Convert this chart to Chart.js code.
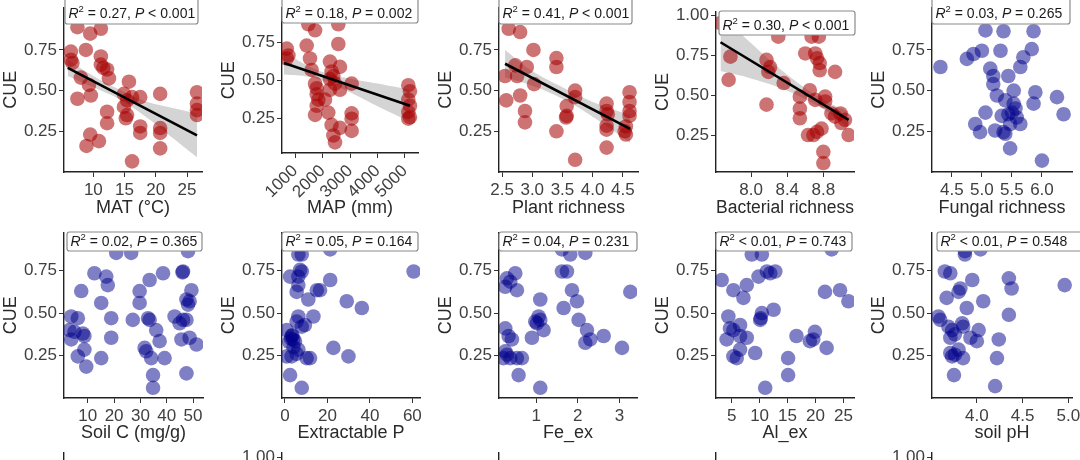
<!DOCTYPE html>
<html><head><meta charset="utf-8">
<script src="https://cdn.jsdelivr.net/npm/chart.js@4.4.1/dist/chart.umd.min.js"></script>
<style>
html,body{margin:0;padding:0;background:#fff;overflow:hidden;width:1080px;height:460px;}
#wrap{position:relative;width:1080px;height:460px;overflow:hidden;background:#fff;}
canvas{position:absolute;}
</style></head><body><div id="wrap"></div>
<script>
// ---------------- DATA ----------------
const matX = [7.45,9.5,11.2,6.4,6.4,6.65,8.8,8.0,9.3,9.6,7.45,11.2,11.2,11.6,12.2,12.5,12.2,12.2,9.5,8.9,10.9,15.7,14.9,15.4,16.2,14.9,15.4,15.2,17.5,17.5,17.5,16.2,20.7,20.7,20.7,20.7,26.6,26.6,26.6,26.6];
const matY = [0.89,0.85,0.88,0.74,0.69,0.67,0.75,0.58,0.535,0.47,0.45,0.71,0.66,0.64,0.63,0.575,0.37,0.30,0.23,0.16,0.19,0.555,0.48,0.44,0.46,0.40,0.35,0.33,0.46,0.28,0.24,0.065,0.48,0.27,0.24,0.145,0.49,0.42,0.38,0.35];
const mapX = [700,760,700,1485,1730,1425,1545,1605,1730,1790,1790,1850,1790,1730,2210,2090,2270,2330,2395,2270,2455,2270,2575,2575,2635,2635,2330,2395,2635,2455,3060,3060,3060,3060,5120,5180,5120,5180,5120,5180,5120];
const mapY = [0.71,0.665,0.645,0.87,0.83,0.73,0.645,0.57,0.48,0.45,0.41,0.375,0.335,0.275,0.29,0.375,0.625,0.56,0.53,0.51,0.48,0.44,0.87,0.74,0.59,0.44,0.21,0.14,0.19,0.095,0.48,0.285,0.25,0.17,0.47,0.43,0.375,0.335,0.295,0.26,0.25];
const plantX = [2.61,2.80,2.55,2.72,2.75,2.91,2.80,2.57,2.88,2.88,3.02,3.03,3.40,3.40,3.57,3.57,3.56,3.40,3.71,3.71,3.71,4.23,4.23,4.25,4.23,4.23,4.23,4.61,4.61,4.61,4.61,4.55,4.53,4.55];
const plantY = [0.88,0.86,0.59,0.655,0.59,0.645,0.47,0.44,0.375,0.305,0.75,0.54,0.70,0.645,0.405,0.345,0.335,0.25,0.50,0.46,0.075,0.42,0.375,0.355,0.285,0.26,0.15,0.49,0.43,0.375,0.345,0.28,0.25,0.23];
const bactX = [7.66,7.77,7.75,8.17,8.21,8.19,8.17,8.30,8.36,8.54,8.54,8.54,8.60,8.67,8.71,8.75,8.73,8.76,8.76,8.65,8.71,8.82,8.82,8.93,8.89,8.93,8.99,9.00,9.04,9.08,8.63,8.69,8.73,8.78,8.80,8.80];
const bactY = [0.95,0.74,0.595,0.72,0.675,0.645,0.44,0.865,0.575,0.49,0.415,0.355,0.76,0.865,0.76,0.865,0.73,0.70,0.655,0.53,0.47,0.49,0.46,0.645,0.385,0.365,0.385,0.325,0.345,0.25,0.25,0.25,0.27,0.29,0.145,0.075];
const fungX = [4.31,4.75,4.86,5.00,5.06,5.14,5.19,5.19,5.25,5.06,4.89,4.97,5.22,5.31,5.36,5.44,5.39,5.53,5.53,5.56,5.50,5.58,5.44,5.33,5.47,5.64,5.36,5.39,5.47,5.64,5.69,5.86,5.83,5.89,5.86,6.25,6.36,6.00];
const fungY = [0.645,0.695,0.725,0.745,0.87,0.635,0.59,0.54,0.47,0.365,0.295,0.245,0.255,0.745,0.865,0.59,0.44,0.50,0.42,0.39,0.365,0.335,0.355,0.345,0.295,0.295,0.245,0.235,0.145,0.645,0.705,0.865,0.755,0.49,0.42,0.46,0.355,0.07];
const soilCX = [3.7,6.2,3.0,4.9,8.1,8.7,3.7,8.7,6.2,9.4,7.5,12.5,17.0,17.6,15.1,18.9,18.9,15.1,20.8,26.5,27.1,29.7,29.7,33.5,38.6,32.9,33.5,36.0,37.3,31.6,32.2,34.1,39.2,34.8,34.8,43.0,44.9,46.2,47.5,48.1,46.2,46.0,48.1,49.4,48.7,47.5,45.6,48.7,51.3,47.5];
const soilCY = [0.48,0.47,0.40,0.39,0.38,0.365,0.345,0.285,0.245,0.185,0.63,0.735,0.715,0.665,0.56,0.47,0.355,0.235,0.855,0.855,0.46,0.63,0.56,0.695,0.735,0.47,0.46,0.40,0.335,0.295,0.275,0.235,0.235,0.135,0.06,0.48,0.44,0.46,0.58,0.55,0.745,0.74,0.865,0.635,0.57,0.46,0.345,0.355,0.315,0.145];
const extPX = [6.3,7.9,21.3,60.6,2.4,7.1,7.9,6.3,6.3,5.5,11.0,15.0,16.5,21.3,29.1,36.2,13.4,6.3,5.5,7.9,9.4,0.8,3.1,3.9,4.7,2.8,6.3,0.8,3.1,10.2,11.8,22.8,29.9,2.4,7.9,3.5,2.0,4.0,5.5];
const extPY = [0.845,0.845,0.875,0.745,0.715,0.755,0.745,0.715,0.665,0.625,0.58,0.635,0.635,0.695,0.57,0.53,0.48,0.48,0.45,0.42,0.43,0.40,0.365,0.345,0.335,0.35,0.285,0.245,0.245,0.235,0.235,0.295,0.245,0.135,0.06,0.37,0.33,0.30,0.26];
const feX = [0.30,0.38,0.50,0.54,0.26,0.26,0.34,0.42,0.26,0.30,0.22,0.38,0.54,0.66,0.58,0.90,0.98,1.10,1.06,1.10,1.02,1.18,1.10,1.62,1.82,2.18,1.62,1.74,1.86,1.98,1.66,2.02,2.22,2.18,2.30,2.62,3.06,3.26];
const feY = [0.705,0.685,0.735,0.635,0.655,0.41,0.365,0.345,0.275,0.255,0.235,0.235,0.235,0.235,0.135,0.355,0.45,0.58,0.48,0.46,0.44,0.40,0.06,0.875,0.845,0.855,0.745,0.745,0.635,0.57,0.53,0.46,0.40,0.325,0.345,0.365,0.295,0.625];
const alX = [3.2,5.3,7.1,7.7,8.6,10.4,9.8,11.3,11.9,12.8,4.4,4.7,5.3,4.1,6.5,6.5,7.7,10.4,10.1,10.2,12.5,5.3,5.9,6.5,9.2,11.0,15.1,15.1,16.6,19.0,19.6,19.9,22.0,21.7,24.4,25.9,22.9];
const alY = [0.695,0.635,0.59,0.665,0.845,0.845,0.715,0.745,0.735,0.745,0.48,0.41,0.40,0.345,0.43,0.365,0.355,0.50,0.46,0.47,0.52,0.245,0.235,0.285,0.265,0.06,0.235,0.135,0.365,0.335,0.345,0.39,0.295,0.625,0.635,0.57,0.875];
const phX = [3.58,3.60,3.65,3.71,3.67,3.80,3.82,3.87,3.87,4.04,3.95,3.89,4.07,3.69,3.73,3.76,3.71,3.84,3.85,3.93,4.00,4.02,3.71,3.76,3.73,3.80,3.85,3.75,4.24,4.22,4.20,4.35,4.38,4.35,4.96];
const phY = [0.48,0.46,0.745,0.735,0.59,0.625,0.645,0.865,0.845,0.875,0.695,0.53,0.57,0.42,0.40,0.375,0.355,0.44,0.42,0.355,0.335,0.40,0.265,0.255,0.245,0.285,0.235,0.135,0.345,0.235,0.07,0.705,0.645,0.49,0.665];

// regression lines and confidence bands
const matFitX = [5.9, 26.6], matFitY = [0.64, 0.225];
const matBandX = [5.9, 10, 14, 18, 22, 26.6];
const matBandUp = [0.69, 0.59, 0.51, 0.44, 0.40, 0.36];
const matBandLo = [0.59, 0.52, 0.45, 0.35, 0.23, 0.09];
const mapFitX = [600, 5180], mapFitY = [0.615, 0.335];
const mapBandX = [600, 1500, 2200, 3000, 4000, 5180];
const mapBandUp = [0.69, 0.595, 0.547, 0.513, 0.481, 0.44];
const mapBandLo = [0.54, 0.525, 0.487, 0.423, 0.331, 0.23];
const plantFitX = [2.55, 4.62], plantFitY = [0.665, 0.265];
const plantBandX = [2.55, 3.0, 3.5, 4.0, 4.62];
const plantBandUp = [0.75, 0.62, 0.52, 0.43, 0.35];
const plantBandLo = [0.58, 0.53, 0.45, 0.34, 0.18];
const bactFitX = [7.66, 9.08], bactFitY = [0.83, 0.345];
const bactBandX = [7.66, 8.0, 8.4, 8.8, 9.08];
const bactBandUp = [1.01, 0.824, 0.627, 0.471, 0.395];
const bactBandLo = [0.65, 0.604, 0.527, 0.411, 0.295];

// ticks
const cueTicks = [0.25, 0.5, 0.75], cueTickLabels = ['0.25', '0.50', '0.75'];
const cueTicks4 = [0.25, 0.5, 0.75, 1.0], cueTickLabels4 = ['0.25', '0.50', '0.75', '1.00'];
const matTicks = [10, 15, 20, 25], matTickLabels = ['10', '15', '20', '25'];
const mapTicks = [1000, 2000, 3000, 4000, 5000], mapTickLabels = ['1000', '2000', '3000', '4000', '5000'];
const plantTicks = [2.5, 3.0, 3.5, 4.0, 4.5], plantTickLabels = ['2.5', '3.0', '3.5', '4.0', '4.5'];
const bactTicks = [8.0, 8.4, 8.8], bactTickLabels = ['8.0', '8.4', '8.8'];
const fungTicks = [4.5, 5.0, 5.5, 6.0], fungTickLabels = ['4.5', '5.0', '5.5', '6.0'];
const soilCTicks = [10, 20, 30, 40, 50], soilCTickLabels = ['10', '20', '30', '40', '50'];
const extPTicks = [0, 20, 40, 60], extPTickLabels = ['0', '20', '40', '60'];
const feTicks = [1, 2, 3], feTickLabels = ['1', '2', '3'];
const alTicks = [5, 10, 15, 20, 25], alTickLabels = ['5', '10', '15', '20', '25'];
const phTicks = [4.0, 4.5, 5.0], phTickLabels = ['4.0', '4.5', '5.0'];

// statistics
const xTitles = ['MAT (°C)', 'MAP (mm)', 'Plant richness', 'Bacterial richness', 'Fungal richness',
                 'Soil C (mg/g)', 'Extractable P', 'Fe_ex', 'Al_ex', 'soil pH'];
const r2Text = ['= 0.27', '= 0.18', '= 0.41', '= 0.30', '= 0.03', '= 0.02', '= 0.05', '= 0.04', '< 0.01', '< 0.01'];
const pText = ['< 0.001', '= 0.002', '< 0.001', '< 0.001', '= 0.265', '= 0.365', '= 0.164', '= 0.231', '= 0.743', '= 0.548'];

// ---------------- STYLE / LAYOUT ----------------
const FONT = "'Liberation Sans', Arial, Helvetica, sans-serif";
const RED = 'rgba(165,0,0,0.55)';
const BLUE = 'rgba(0,0,139,0.5)';
const BAND = 'rgba(153,153,153,0.42)';
const TICKC = '#404040', TITLEC = '#2a2a2a';
Chart.defaults.font.family = FONT;

const layout = [
  {pl:64,  pr:202,  pt:0,   pb:172, rt:0,   box:[65,-3,198,24],    base:18, xMin:5.3,  xMax:27.4, yMin:0,     yMax:1.012, rot:0},
  {pl:282, pr:418,  pt:0,   pb:153, rt:0,   box:[282,-3,418,23],   base:18, xMin:527,  xMax:5473, yMin:0.025, yMax:0.981, rot:45},
  {pl:499, pr:638,  pt:0,   pb:172, rt:0,   box:[499,-3,632,24],   base:18, xMin:2.45, xMax:4.75, yMin:0,     yMax:1.012, rot:0},
  {pl:716, pr:854,  pt:12,  pb:172, rt:0,   box:[719,11,855,35],   base:30, xMin:7.61, xMax:9.14, yMin:0.019, yMax:1.019, rot:0},
  {pl:932, pr:1072, pt:0,   pb:172, rt:0,   box:[932,-3,1070,24],  base:18, xMin:4.17, xMax:6.5,  yMin:0,     yMax:1.012, rot:0},
  {pl:64,  pr:203,  pt:232, pb:398, rt:225, box:[67,232,202,251],  base:246, xMin:0.94, xMax:53.8, yMin:0,    yMax:0.976, rot:0},
  {pl:282, pr:420,  pt:232, pb:398, rt:225, box:[282,232,418,251], base:246, xMin:-1.4, xMax:63.6, yMin:0,    yMax:0.976, rot:0},
  {pl:499, pr:637,  pt:232, pb:398, rt:225, box:[499,232,637,251], base:246, xMin:0.11, xMax:3.42, yMin:0,    yMax:0.976, rot:0},
  {pl:716, pr:854,  pt:232, pb:398, rt:225, box:[716,232,852,251], base:246, xMin:2.19, xMax:26.9, yMin:0,    yMax:0.976, rot:0},
  {pl:932, pr:1072, pt:232, pb:398, rt:225, box:[937,232,1085,251],base:246, xMin:3.51, xMax:5.04, yMin:0,    yMax:0.976, rot:0}
];

const panels = [
  {x:matX, y:matY, color:RED, xt:matTicks, xl:matTickLabels, yt:cueTicks, yl:cueTickLabels,
   fit:[matFitX, matFitY], band:[matBandX, matBandUp, matBandLo]},
  {x:mapX, y:mapY, color:RED, xt:mapTicks, xl:mapTickLabels, yt:cueTicks, yl:cueTickLabels,
   fit:[mapFitX, mapFitY], band:[mapBandX, mapBandUp, mapBandLo]},
  {x:plantX, y:plantY, color:RED, xt:plantTicks, xl:plantTickLabels, yt:cueTicks, yl:cueTickLabels,
   fit:[plantFitX, plantFitY], band:[plantBandX, plantBandUp, plantBandLo]},
  {x:bactX, y:bactY, color:RED, xt:bactTicks, xl:bactTickLabels, yt:cueTicks4, yl:cueTickLabels4,
   fit:[bactFitX, bactFitY], band:[bactBandX, bactBandUp, bactBandLo]},
  {x:fungX, y:fungY, color:BLUE, xt:fungTicks, xl:fungTickLabels, yt:cueTicks, yl:cueTickLabels},
  {x:soilCX, y:soilCY, color:BLUE, xt:soilCTicks, xl:soilCTickLabels, yt:cueTicks, yl:cueTickLabels},
  {x:extPX, y:extPY, color:BLUE, xt:extPTicks, xl:extPTickLabels, yt:cueTicks, yl:cueTickLabels},
  {x:feX, y:feY, color:BLUE, xt:feTicks, xl:feTickLabels, yt:cueTicks, yl:cueTickLabels},
  {x:alX, y:alY, color:BLUE, xt:alTicks, xl:alTickLabels, yt:cueTicks, yl:cueTickLabels},
  {x:phX, y:phY, color:BLUE, xt:phTicks, xl:phTickLabels, yt:cueTicks, yl:cueTickLabels}
];

// ---------------- DRAWING ----------------
const statsPlugin = {
  id: 'stats',
  afterDraw(chart, args, o) {
    if (!o || !o.r2) return;
    const ctx = chart.ctx;
    const [x0, y0, x1, y1] = o.box;
    const r = 2.5;
    ctx.save();
    ctx.beginPath();
    ctx.moveTo(x0 + r, y0); ctx.lineTo(x1 - r, y0); ctx.quadraticCurveTo(x1, y0, x1, y0 + r);
    ctx.lineTo(x1, y1 - r); ctx.quadraticCurveTo(x1, y1, x1 - r, y1);
    ctx.lineTo(x0 + r, y1); ctx.quadraticCurveTo(x0, y1, x0, y1 - r);
    ctx.lineTo(x0, y0 + r); ctx.quadraticCurveTo(x0, y0, x0 + r, y0);
    ctx.closePath();
    ctx.fillStyle = '#fff'; ctx.fill();
    ctx.strokeStyle = '#8a8a8a'; ctx.lineWidth = 1.2; ctx.stroke();
    ctx.fillStyle = '#1a1a1a'; ctx.textBaseline = 'alphabetic'; ctx.textAlign = 'left';
    let x = x0 + 3.5;
    const segs = [['R', 'italic 14px ' + FONT, 0], ['2', '9.5px ' + FONT, -6],
                  [' ' + o.r2 + ', ', '14px ' + FONT, 0], ['P', 'italic 14px ' + FONT, 0],
                  [' ' + o.p, '14px ' + FONT, 0]];
    for (const [t, f, dy] of segs) { ctx.font = f; ctx.fillText(t, x, o.base + dy); x += ctx.measureText(t).width; }
    ctx.restore();
  }
};

const wrap = document.getElementById('wrap');

function axisCommon() {
  return {
    grid: {display: true, drawOnChartArea: false, drawTicks: true, tickLength: 5, color: '#333', lineWidth: 1},
    border: {display: true, color: '#222', width: 1.4}
  };
}

function makeChart(P, L, idx, opts) {
  const rowH = opts.rowH || 225;
  const cLeft = L.pl - 64, cTop = L.rt, cW = L.pr - cLeft + 24, cH = rowH;
  const canvas = document.createElement('canvas');
  canvas.width = cW; canvas.height = cH;
  canvas.style.left = cLeft + 'px'; canvas.style.top = cTop + 'px';
  canvas.style.width = cW + 'px'; canvas.style.height = cH + 'px';
  wrap.appendChild(canvas);

  const datasets = [];
  if (P.fit) {
    datasets.push({type: 'line', data: P.fit[0].map((x, k) => ({x, y: P.fit[1][k]})),
      borderColor: '#000', borderWidth: 2.6, pointRadius: 0, fill: false});
  }
  datasets.push({type: 'scatter', data: P.x.map((x, k) => ({x, y: P.y[k]})),
    backgroundColor: P.color, borderWidth: 0, pointRadius: 7.3, pointHoverRadius: 7.3});
  if (P.band) {
    datasets.push({type: 'line', data: P.band[0].map((x, k) => ({x, y: P.band[1][k]})),
      borderColor: 'rgba(0,0,0,0)', borderWidth: 0, pointRadius: 0, fill: '+1', backgroundColor: BAND, tension: 0.4});
    datasets.push({type: 'line', data: P.band[0].map((x, k) => ({x, y: P.band[2][k]})),
      borderColor: 'rgba(0,0,0,0)', borderWidth: 0, pointRadius: 0, fill: false, tension: 0.4});
  }
  const xScaleH = cTop + cH - L.pb;
  const xs = Object.assign(axisCommon(), {
    type: 'linear', position: 'bottom', min: L.xMin, max: L.xMax, display: opts.showX !== false,
    afterBuildTicks: s => { s.ticks = P.xt.map(v => ({value: v})); },
    afterFit: s => { s.height = xScaleH; s.paddingLeft = 0; s.paddingRight = 0; },
    ticks: {autoSkip: false, minRotation: L.rot, maxRotation: L.rot, padding: 3, color: TICKC,
      font: {family: FONT, size: 17}, callback: (v, i) => P.xl[i]},
    title: {display: !!opts.xTitle, text: opts.xTitle || '', color: TITLEC, font: {family: FONT, size: 18},
      padding: {top: 0, bottom: 6}}
  });
  const ys = Object.assign(axisCommon(), {
    type: 'linear', position: 'left', min: L.yMin, max: L.yMax,
    afterBuildTicks: s => { s.ticks = P.yt.filter(v => v <= L.yMax && v >= L.yMin).map(v => ({value: v})); },
    afterFit: s => { s.width = 64; s.paddingTop = 0; s.paddingBottom = 0; },
    ticks: {padding: 2, color: TICKC, font: {family: FONT, size: 17},
      callback: (v, i, t) => P.yl[P.yt.indexOf(t[i].value)]},
    title: {display: true, text: 'CUE', color: TITLEC, font: {family: FONT, size: 18}, padding: {top: 0, bottom: 0}}
  });
  new Chart(canvas, {
    type: 'scatter',
    data: {datasets},
    options: {
      responsive: false, animation: false, devicePixelRatio: 1,
      layout: {padding: {left: 0, top: L.pt - cTop, right: 24, bottom: 0}},
      plugins: {legend: {display: false}, tooltip: {enabled: false},
        stats: opts.r2 ? {r2: opts.r2, p: opts.p, box: [L.box[0] - cLeft, L.box[1] - cTop, L.box[2] - cLeft, L.box[3] - cTop], base: L.base - cTop} : {}},
      scales: {x: xs, y: ys}
    },
    plugins: [statsPlugin]
  });
}

panels.forEach((P, i) => makeChart(P, layout[i], i, {xTitle: xTitles[i], r2: r2Text[i], p: pText[i]}));

// third row (only its top edge is inside the picture)
const row3Cols = [[64, 203, 0.976], [282, 420, 1.018], [499, 637, 0.976], [716, 854, 0.976], [932, 1072, 1.018]];
row3Cols.forEach(([pl, pr, ym]) => {
  makeChart({x: [], y: [], color: BLUE, xt: [], xl: [], yt: cueTicks4, yl: cueTickLabels4},
    {pl, pr, pt: 453, pb: 680, rt: 440, box: [0, 0, 0, 0], base: 0, xMin: 0, xMax: 1, yMin: 0, yMax: ym, rot: 0},
    -1, {rowH: 240, showX: false});
});
</script>
</body></html>
